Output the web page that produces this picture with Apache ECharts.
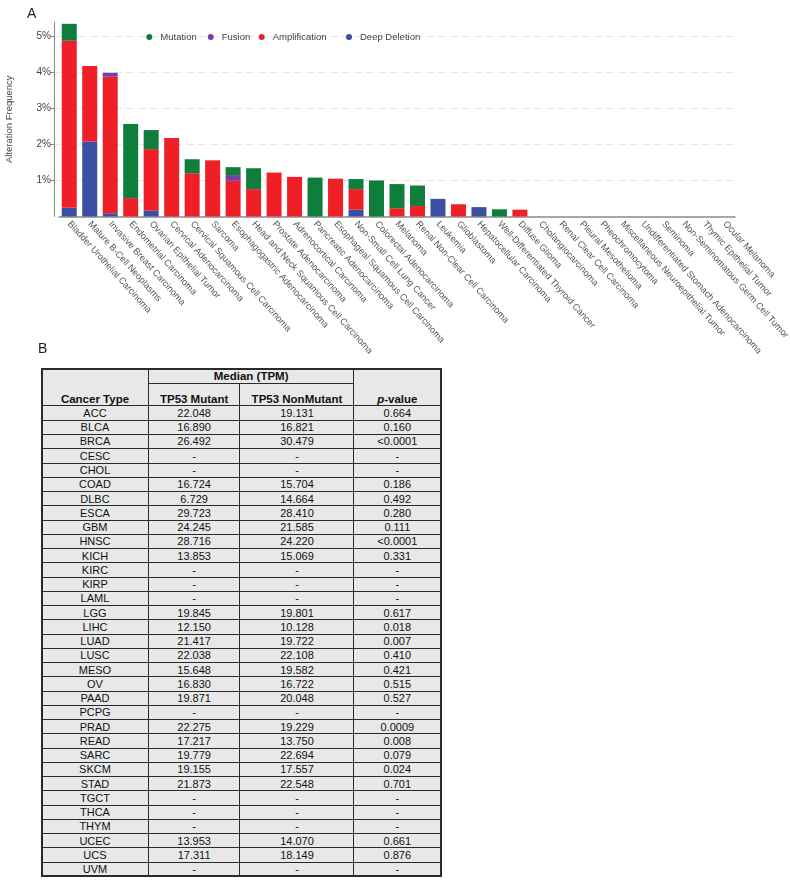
<!DOCTYPE html>
<html><head><meta charset="utf-8">
<script src="https://cdn.jsdelivr.net/npm/echarts@6/dist/echarts.min.js"></script>
<style>
html,body{margin:0;padding:0;background:#fff;}
#chart{position:absolute;left:0;top:0;width:790px;height:883px;}
#tbl{position:absolute;left:41.7px;top:369.3px;width:399px;height:507px;background:#e8e8e8;font-family:"Liberation Sans",Arial,sans-serif;color:#111;z-index:2;}
.c{position:absolute;text-align:center;white-space:nowrap;font-size:11px;}
.h{font-weight:bold;font-size:11.5px;}
.ln{position:absolute;background:#2a2a2a;}
</style></head><body>
<div id="chart"></div>
<div id="tbl"></div>
<script>
// ---------- Panel A data ----------
const categories = [
  "Bladder Urothelial Carcinoma","Mature B-Cell Neoplasms","Invasive Breast Carcinoma","Endometrial Carcinoma",
  "Ovarian Epithelial Tumor","Cervical Adenocarcinoma","Cervical Squamous Cell Carcinoma","Sarcoma",
  "Esophagogastric Adenocarcinoma","Head and Neck Squamous Cell Carcinoma","Prostate Adenocarcinoma",
  "Adrenocortical Carcinoma","Pancreatic Adenocarcinoma","Esophageal Squamous Cell Carcinoma",
  "Non-Small Cell Lung Cancer","Colorectal Adenocarcinoma","Melanoma","Renal Non-Clear Cell Carcinoma",
  "Leukemia","Glioblastoma","Hepatocellular Carcinoma","Well-Differentiated Thyroid Cancer","Diffuse Glioma",
  "Cholangiocarcinoma","Renal Clear Cell Carcinoma","Pleural Mesothelioma","Pheochromocytoma",
  "Miscellaneous Neuroepithelial Tumor","Undifferentiated Stomach Adenocarcinoma","Seminoma",
  "Non-Seminomatous Germ Cell Tumor","Thymic Epithelial Tumor","Ocular Melanoma"
];
const deepDeletion  = [0.24,2.08,0.09,0,0.16,0,0,0,0,0,0,0,0,0,0.19,0,0,0,0.49,0,0.26,0,0,0,0,0,0,0,0,0,0,0,0];
const amplification = [4.64,2.10,3.79,0.51,1.71,2.18,1.20,1.56,0.99,0.76,1.22,1.10,0,1.05,0.57,0,0.23,0.29,0,0.34,0,0,0.19,0,0,0,0,0,0,0,0,0,0];
const fusion        = [0,0,0.11,0,0,0,0,0,0.16,0,0,0,0,0,0,0,0,0,0,0,0,0,0,0,0,0,0,0,0,0,0,0,0];
const mutation      = [0.47,0,0,2.06,0.53,0,0.39,0,0.22,0.58,0,0,1.08,0,0.28,1.00,0.67,0.57,0,0,0,0.20,0,0,0,0,0,0,0,0,0,0,0];
const yTickMin = 1, yTickMax = 5, yAxisMax = 5.4;

// ---------- Panel B data ----------
const cancerTypes = ["ACC","BLCA","BRCA","CESC","CHOL","COAD","DLBC","ESCA","GBM","HNSC","KICH","KIRC","KIRP","LAML","LGG","LIHC","LUAD","LUSC","MESO","OV","PAAD","PCPG","PRAD","READ","SARC","SKCM","STAD","TGCT","THCA","THYM","UCEC","UCS","UVM"];
const medianMutant = ["22.048","16.890","26.492","-","-","16.724","6.729","29.723","24.245","28.716","13.853","-","-","-","19.845","12.150","21.417","22.038","15.648","16.830","19.871","-","22.275","17.217","19.779","19.155","21.873","-","-","-","13.953","17.311","-"];
const medianNonMutant = ["19.131","16.821","30.479","-","-","15.704","14.664","28.410","21.585","24.220","15.069","-","-","-","19.801","10.128","19.722","22.108","19.582","16.722","20.048","-","19.229","13.750","22.694","17.557","22.548","-","-","-","14.070","18.149","-"];
const pValues = ["0.664","0.160","<0.0001","-","-","0.186","0.492","0.280","0.111","<0.0001","0.331","-","-","-","0.617","0.018","0.007","0.410","0.421","0.515","0.527","-","0.0009","0.008","0.079","0.024","0.701","-","-","-","0.661","0.876","-"];

const FONT = '"Liberation Sans", Arial, sans-serif';
const colors = {Mutation:'#0f7d3c', Fusion:'#7541a0', Amplification:'#ee1f26', 'Deep Deletion':'#3a4ea2'};

// plot geometry
const plotTop = 22, plotBottom = 216.5;
const unit = (plotBottom - plotTop) / yAxisMax;

const chart = echarts.init(document.getElementById('chart'));
function leg(name, left){
  return {show:true, data:[name], left:left, top:32, icon:'circle', itemWidth:6, itemHeight:6,
    itemGap:0, padding:0, selectedMode:false,
    textStyle:{fontSize:9.5, color:'#444', fontFamily:FONT, padding:[0,0,0,3]}};
}
function bar(name, data){
  return {name:name, type:'bar', stack:'total', data:data, barWidth:15, xAxisIndex:0, yAxisIndex:0,
    itemStyle:{color:colors[name]}, emphasis:{disabled:true}, animation:false, z:3};
}
chart.setOption({
  animation:false,
  textStyle:{fontFamily:FONT},
  graphic:[
    {type:'text', left:27, top:7, style:{text:'A', fontSize:14, fill:'#222', fontFamily:FONT}},
    {type:'text', left:38, top:342, style:{text:'B', fontSize:14, fill:'#222', fontFamily:FONT}}
  ],
  legend:[leg('Mutation',146.3), leg('Fusion',207.7), leg('Amplification',258.7), leg('Deep Deletion',346)],
  grid:[
    {left:59, top:plotTop, width:676, height:plotBottom-plotTop, containLabel:false, outerBoundsMode:'none', z:2},
    {left:54, top:plotBottom - yTickMax*unit, width:685, height:(yTickMax-yTickMin)*unit, containLabel:false, outerBoundsMode:'none', z:0}
  ],
  xAxis:[
    {type:'category', data:categories, gridIndex:0,
     axisLine:{lineStyle:{color:'#8a8a8a', width:1.5}},
     axisTick:{show:false},
     axisLabel:{rotate:-48, interval:0, fontSize:9.2, color:'#555', margin:6, fontFamily:FONT}},
    {type:'value', gridIndex:1, min:0, max:1, show:false}
  ],
  yAxis:[
    {type:'value', gridIndex:0, min:0, max:yAxisMax, offset:5,
     name:'Alteration Frequency', nameLocation:'middle', nameGap:40,
     nameTextStyle:{fontSize:9.5, color:'#444', fontFamily:FONT},
     axisLine:{show:true, lineStyle:{color:'#8a8a8a', width:1}},
     axisTick:{show:false}, axisLabel:{show:false}, splitLine:{show:false}},
    {type:'value', gridIndex:1, min:yTickMin, max:yTickMax, interval:1,
     axisLine:{show:false},
     axisTick:{show:true, length:4, lineStyle:{color:'#8a8a8a'}},
     axisLabel:{fontSize:10, color:'#444', margin:3, formatter:'{value}%'},
     splitLine:{show:true, lineStyle:{color:'#e6e6e6', type:[8,4], width:1}}}
  ],
  series:[bar('Deep Deletion',deepDeletion), bar('Amplification',amplification), bar('Fusion',fusion), bar('Mutation',mutation)]
});

// ---------- Table ----------
const tbl = document.getElementById('tbl');
const W = 399, H = 507;
const colX = [0,106.6,198.3,312.3,399];
const hdr1 = 14, hdrEnd = 36.7, rowH = (H - hdrEnd)/cancerTypes.length;
function line(x,y,w,h){const d=document.createElement('div');d.className='ln';d.style.left=x+'px';d.style.top=y+'px';d.style.width=w+'px';d.style.height=h+'px';tbl.appendChild(d);}
function cell(html,x,y,w,h,cls){const d=document.createElement('div');d.className='c'+(cls?' '+cls:'');d.style.left=x+'px';d.style.top=y+'px';d.style.width=w+'px';d.style.height=h+'px';d.style.lineHeight=h+'px';d.innerHTML=html;tbl.appendChild(d);}
// borders
line(-1,-1,W+2,2); line(-1,H-1,W+2,2); line(-1,-1,2,H+2); line(W-1,-1,2,H+2);
line(colX[1]-0.5,0,1,H); line(colX[3]-0.5,0,1,H); line(colX[2]-0.5,hdr1,1,H-hdr1);
line(colX[1],hdr1-0.5,colX[3]-colX[1],1);
line(0,hdrEnd-0.5,W,1);
for(let i=1;i<cancerTypes.length;i++){ line(0,hdrEnd+i*rowH-0.5,W,1); }
// header text
cell('Median (TPM)',colX[1],0,colX[3]-colX[1],hdr1,'h');
cell('Cancer Type',colX[0],22.5,colX[1]-colX[0],14,'h');
cell('TP53 Mutant',colX[1],22.5,colX[2]-colX[1],14,'h');
cell('TP53 NonMutant',colX[2],22.5,colX[3]-colX[2],14,'h');
cell('<i>p</i>-value',colX[3],22.5,colX[4]-colX[3],14,'h');
for(let i=0;i<cancerTypes.length;i++){
  const y = hdrEnd + i*rowH;
  const vals=[cancerTypes[i],medianMutant[i],medianNonMutant[i],pValues[i]];
  for(let j=0;j<4;j++) cell(vals[j].replace('<','&lt;'),colX[j],y,colX[j+1]-colX[j],rowH);
}
</script>
</body></html>
